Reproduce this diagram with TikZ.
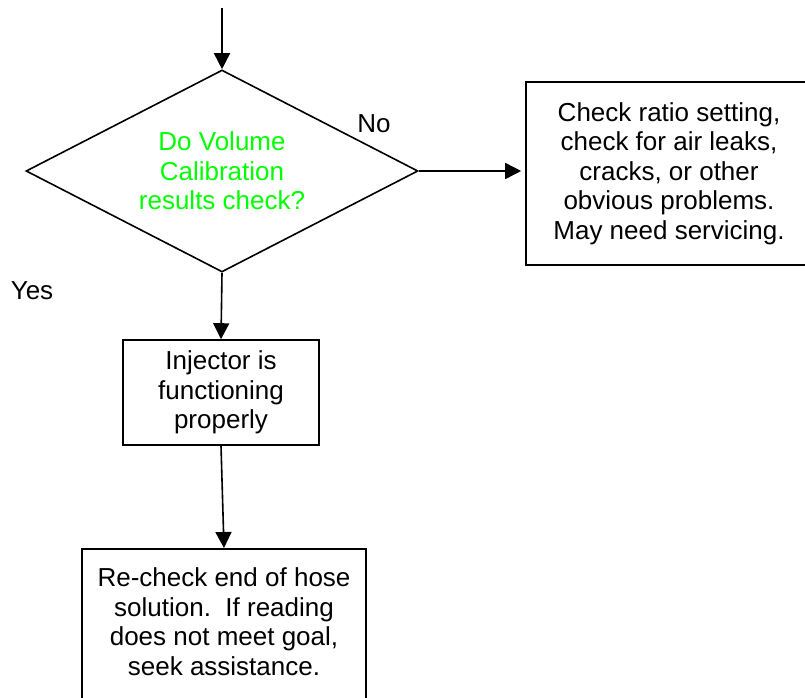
\documentclass[tikz,border=0pt]{standalone}
\usepackage{fontspec}
\setmainfont{Liberation Sans}
\usetikzlibrary{shapes.geometric,arrows.meta}
\definecolor{askgreen}{RGB}{0,255,0}
\tikzset{
  stepbox/.style={draw, line width=1.6pt, align=center, inner sep=0pt},
  decision/.style={diamond, draw, line width=1.6pt, align=center, inner sep=0pt,
    text=askgreen, aspect=1.94, minimum width=392pt, minimum height=202pt},
  flow/.style={line width=1.6pt, -{Triangle[width=16pt,length=16pt]}}
}
\begin{document}
\begin{tikzpicture}[x=1pt,y=-1pt,font=\fontsize{26}{29.5}\selectfont]
\useasboundingbox (0,0) rectangle (805,698);
\coordinate (entry) at (222,8);
\node[decision] (check) at (222,171) {Do Volume\\ Calibration\\ results check?};
\node[stepbox, minimum width=286pt, minimum height=183pt] (service) at (669,173.5)
  {Check ratio setting,\\ check for air leaks,\\ cracks, or other\\ obvious problems.\\ May need servicing.};
\node[stepbox, minimum width=196pt, minimum height=105pt] (fine) at (221,392.5)
  {Injector is\\ functioning\\ properly};
\node[stepbox, anchor=north, minimum width=284pt, minimum height=175pt] (recheck) at (224,548)
  {Re-check end of hose\\ solution.\ \ If reading\\ does not meet goal,\\ seek assistance.\\ \mbox{}};
\node (no) at (374,124) {No};
\node (yes) at (32,291) {Yes};
% connectors
\draw[flow] (entry) -- (check.north);
\draw[flow, shorten >=4pt] (check.east) -- (check.east -| service.west);
\draw[flow] (check.south) -- (fine.north);
\draw[flow] (fine.south) -- (recheck.north);
\end{tikzpicture}
\end{document}
